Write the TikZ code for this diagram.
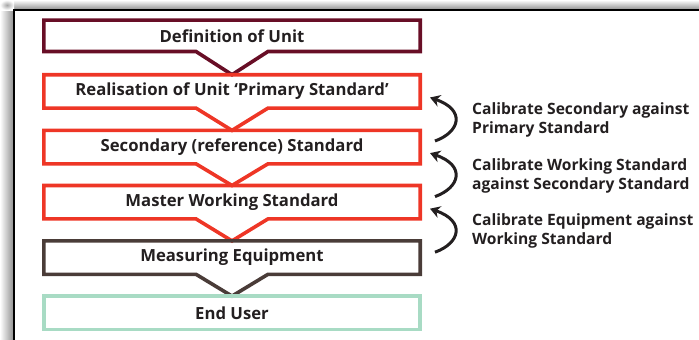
\documentclass[tikz,border=0pt]{standalone}
\usepackage{fontspec}
\setmainfont{Open Sans}
\usetikzlibrary{arrows.meta,calc,positioning}
\definecolor{unitMaroon}{RGB}{104,14,38}
\definecolor{stdRed}{RGB}{238,54,38}
\definecolor{equipBrown}{RGB}{74,60,56}
\definecolor{userMint}{RGB}{168,219,196}
\definecolor{textDark}{RGB}{35,31,32}

\begin{document}
\begin{tikzpicture}[x=1pt, y=-1pt]
	\tikzset{stageStyle/.style = {minimum width = 376pt, minimum height = 33pt, inner sep = 0pt, text = textDark, font = \bfseries\fontsize{16.7}{18}\selectfont}}
	\tikzset{stageLine/.style = {line width = 3.6pt, line join = miter}}
	\tikzset{noteStyle/.style = {anchor = west, align = left, inner sep = 0pt, text = textDark, font = \bfseries\fontsize{15.6}{19}\selectfont}}
	\tikzset{calArrow/.style = {line width = 3pt, textDark, -{Stealth[length = 10pt, width = 12pt]}}}
	\useasboundingbox (0,0) rectangle (699,340);
	% frame and shadow
	\shade[left color = white, right color = black!45] (0,10) rectangle (14,340);
	\shade[top color = white, bottom color = black!45] (14,0) rectangle (699,10);
	\shade[inner color = black!35, outer color = white] (0,0) rectangle (14,10);
	\draw[line width = 2pt] (14,340) -- (14,10) -- (699,10);
	% stages
	\node[stageStyle, minimum height = 31pt] (def) at (232,35.8) {Definition of Unit};
	\node[stageStyle] (prim) at (232,91.4) {Realisation of Unit ‘Primary Standard’};
	\node[stageStyle] (sec) at (232,147.1) {Secondary (reference) Standard};
	\node[stageStyle] (work) at (232,202.2) {Master Working Standard};
	\node[stageStyle] (equip) at (232,257.6) {Measuring Equipment};
	\node[stageStyle] (user) at (232,312.8) {End User};
	% outlines with notches
	\draw[stageLine, unitMaroon] (def.north west) -- (def.north east) -- (def.south east) -- ($(def.south)+(36,0)$) -- (prim.north) -- ($(def.south)+(-36,0)$) -- (def.south west) -- cycle;
	\draw[stageLine, stdRed] (prim.north west) -- (prim.north east) -- (prim.south east) -- ($(prim.south)+(36,0)$) -- (sec.north) -- ($(prim.south)+(-36,0)$) -- (prim.south west) -- cycle;
	\draw[stageLine, stdRed] (sec.north west) -- (sec.north east) -- (sec.south east) -- ($(sec.south)+(36,0)$) -- (work.north) -- ($(sec.south)+(-36,0)$) -- (sec.south west) -- cycle;
	\draw[stageLine, stdRed] (work.north west) -- (work.north east) -- (work.south east) -- ($(work.south)+(36,0)$) -- (equip.north) -- ($(work.south)+(-36,0)$) -- (work.south west) -- cycle;
	\draw[stageLine, equipBrown] (equip.north west) -- (equip.north east) -- (equip.south east) -- ($(equip.south)+(36,0)$) -- (user.north) -- ($(equip.south)+(-36,0)$) -- (equip.south west) -- cycle;
	\draw[stageLine, userMint] (user.north west) rectangle (user.south east);
	% calibration notes
	\node[noteStyle] (calA) at (472,120) {Calibrate Secondary against\\Primary Standard};
	\node[noteStyle] (calB) at (472,175.6) {Calibrate Working Standard\\against Secondary Standard};
	\node[noteStyle] (calC) at (472,231.2) {Calibrate Equipment against\\Working Standard};
	\coordinate (tailA) at (435,141);
	\coordinate (headA) at (430,97.5);
	\coordinate (tailB) at (435,196.6);
	\coordinate (headB) at (430,153.1);
	\coordinate (tailC) at (435,252.2);
	\coordinate (headC) at (430,208.7);
	\draw[calArrow] (tailA) .. controls (460,132) and (466,110) .. (headA);
	\draw[calArrow] (tailB) .. controls (460,187.6) and (466,165.6) .. (headB);
	\draw[calArrow] (tailC) .. controls (460,243.2) and (466,221.2) .. (headC);
\end{tikzpicture}
\end{document}
